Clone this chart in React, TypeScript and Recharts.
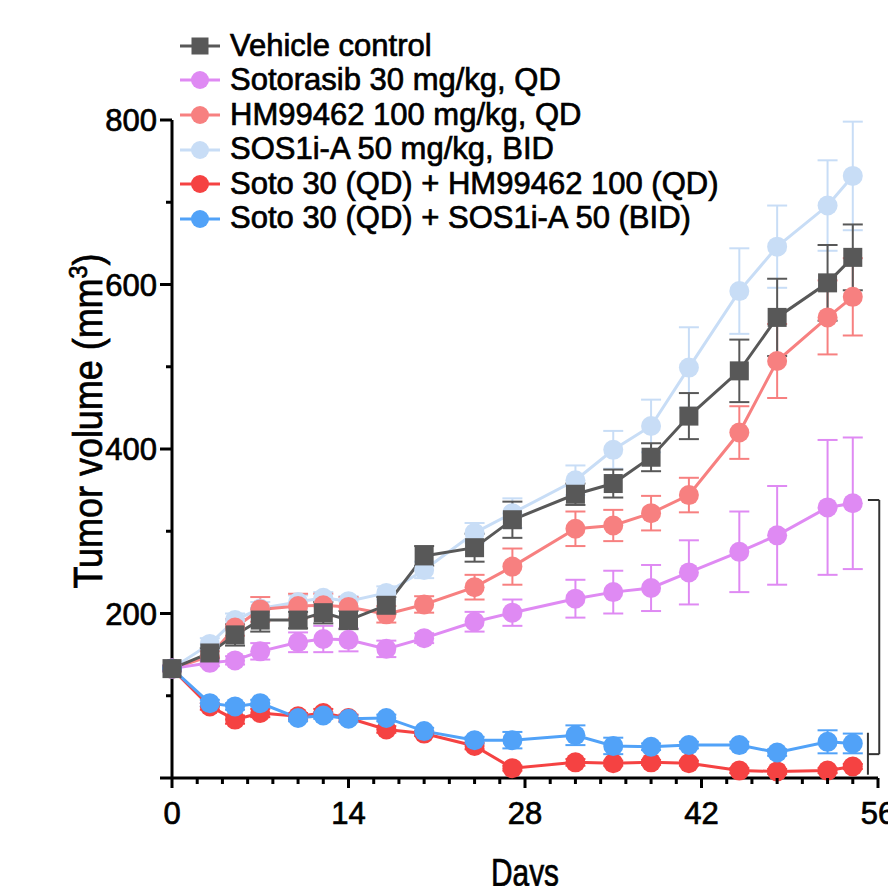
import { LineChart, Line, XAxis, YAxis, ErrorBar, Legend, ReferenceLine } from 'recharts';

// sampling days
const days = [0, 3, 5, 7, 10, 12, 14, 17, 20, 24, 27, 32, 35, 38, 41, 45, 48, 52, 54];

// mean tumor volume (mm3) and SEM per group
const vehicle = [133, 152, 174, 192, 192, 201, 192, 210, 270, 280, 314, 345, 358, 390, 440, 495, 560, 602, 633];
const vehicleErr = [3, 6, 13, 14, 10, 13, 11, 10, 12, 17, 22, 13, 17, 17, 28, 38, 47, 46, 40];

const sotorasib = [133, 140, 143, 154, 165, 169, 168, 157, 170, 190, 201, 218, 226, 231, 250, 275, 295, 329, 334];
const sotorasibErr = [3, 4, 5, 10, 12, 16, 14, 10, 6, 12, 16, 23, 26, 28, 39, 49, 60, 82, 80];

const hm = [133, 148, 183, 205, 209, 210, 208, 199, 211, 232, 257, 303, 307, 322, 344, 420, 507, 560, 585];
const hmErr = [3, 6, 10, 15, 15, 14, 12, 10, 10, 15, 22, 21, 19, 21, 21, 32, 45, 45, 47];

const sos = [133, 163, 192, 206, 214, 219, 215, 225, 253, 298, 322, 362, 399, 428, 499, 592, 646, 696, 732];
const sosErr = [3, 7, 8, 8, 8, 7, 6, 8, 10, 12, 18, 18, 23, 32, 49, 52, 50, 55, 66];

const sotoHm = [133, 87, 71, 79, 75, 79, 73, 59, 54, 39, 12, 19, 18, 19, 18, 9, 8, 9, 14];
const sotoHmErr = [3, 4, 5, 5, 4, 5, 4, 4, 3, 4, 3, 4, 3, 3, 3, 3, 3, 3, 3];

const sotoSos = [133, 91, 87, 91, 73, 76, 72, 73, 57, 46, 46, 52, 39, 38, 40, 40, 31, 44, 42];
const sotoSosErr = [3, 4, 4, 4, 4, 4, 4, 4, 4, 4, 10, 12, 10, 4, 4, 4, 4, 14, 12];

const seriesNames = [
  'Vehicle control',
  'Sotorasib 30 mg/kg, QD',
  'HM99462 100 mg/kg, QD',
  'SOS1i-A 50 mg/kg, BID',
  'Soto 30 (QD) + HM99462 100 (QD)',
  'Soto 30 (QD) + SOS1i-A 50 (BID)'
];

const xTicks = [0, 2, 4, 6, 8, 10, 12, 14, 16, 18, 20, 22, 24, 26, 28, 30, 32, 34, 36, 38, 40, 42, 44, 46, 48, 50, 52, 54, 56];
const yTicks = [0, 100, 200, 300, 400, 500, 600, 700, 800];

// significance brackets (data coords)
const bigBracket = { x1: 55.2, x2: 56.1, yTop: 338, yBottom: 29 };
const smallBracket = { x: 55.2, yTop: 55, yBottom: 4 };

const data = days.map((d, i) => ({
  day: d,
  vehicle: vehicle[i],
  vehicleErr: vehicleErr[i],
  sotorasib: sotorasib[i],
  sotorasibErr: sotorasibErr[i],
  hm: hm[i],
  hmErr: hmErr[i],
  sos: sos[i],
  sosErr: sosErr[i],
  sotoHm: sotoHm[i],
  sotoHmErr: sotoHmErr[i],
  sotoSos: sotoSos[i],
  sotoSosErr: sotoSosErr[i]
}));

const FONT = '"Liberation Sans", Arial, sans-serif';
const TEXT_STROKE = 0.7;

const series = [
  { key: 'vehicle', name: seriesNames[0], color: '#585858', shape: 'square' },
  { key: 'sotorasib', name: seriesNames[1], color: '#df8af3', shape: 'circle' },
  { key: 'hm', name: seriesNames[2], color: '#f78080', shape: 'circle' },
  { key: 'sos', name: seriesNames[3], color: '#c8ddf6', shape: 'circle' },
  { key: 'sotoHm', name: seriesNames[4], color: '#f54242', shape: 'circle' },
  { key: 'sotoSos', name: seriesNames[5], color: '#51a2f8', shape: 'circle' }
];

// draw order: light blue first, vehicle on top
const drawOrder = ['sos', 'hm', 'sotorasib', 'sotoHm', 'sotoSos', 'vehicle'];

const XTick = (props: any) => {
  const { x, y, payload } = props;
  const major = payload.value % 14 === 0;
  return (
    <g>
      <line x1={x} y1={y} x2={x} y2={y + (major ? 10 : 6)} stroke="#000" strokeWidth={3} />
      {major && (
        <text x={x} y={y + 46} textAnchor="middle" fontSize={31} fontFamily={FONT} fill="#000" stroke="#000" strokeWidth={TEXT_STROKE}>
          {payload.value}
        </text>
      )}
    </g>
  );
};

const YTick = (props: any) => {
  const { x, y, payload } = props;
  const major = payload.value % 200 === 0;
  return (
    <g>
      <line x1={x - (major ? 12 : 6)} y1={y} x2={x} y2={y} stroke="#000" strokeWidth={3} />
      {major && payload.value !== 0 && (
        <text x={x - 15} y={y + 11} textAnchor="end" fontSize={31} fontFamily={FONT} fill="#000" stroke="#000" strokeWidth={TEXT_STROKE}>
          {payload.value}
        </text>
      )}
    </g>
  );
};

const Marker = ({ shape, color, cx, cy, size }: any) =>
  shape === 'square' ? (
    <rect x={cx - size} y={cy - size} width={size * 2} height={size * 2} fill={color} />
  ) : (
    <circle cx={cx} cy={cy} r={size} fill={color} />
  );

const renderLegend = () => (
  <div style={{ fontFamily: FONT, fontSize: 31, lineHeight: '34.6px', color: '#000', WebkitTextStroke: `${TEXT_STROKE}px #000` }}>
    {series.map((s) => (
      <div key={s.key} style={{ display: 'flex', alignItems: 'center', height: 34.6, whiteSpace: 'nowrap' }}>
        <svg width={50} height={34} style={{ flex: 'none' }}>
          <line x1={0} y1={17} x2={40} y2={17} stroke={s.color} strokeWidth={3} />
          <Marker shape={s.shape} color={s.color} cx={20} cy={17} size={s.shape === 'square' ? 8.5 : 9} />
        </svg>
        <span>{s.name}</span>
      </div>
    ))}
  </div>
);

export default function App() {
  return (
    <div style={{ width: 888, height: 886, position: 'relative', background: '#fff' }}>
      <style>{'body{margin:0;overflow:hidden;background:#fff}'}</style>
      <LineChart width={888} height={886} data={data} margin={{ top: 120, right: 10, left: 0, bottom: 0 }}>
        <XAxis
          dataKey="day"
          type="number"
          domain={[0, 56]}
          ticks={xTicks}
          interval={0}
          height={108}
          tickSize={0}
          tickMargin={0}
          tickLine={false}
          axisLine={{ stroke: '#000', strokeWidth: 3 }}
          tick={<XTick />}
          label={{
            content: () => (
              <text x={525} y={886} textAnchor="middle" fontSize={38} fontFamily={FONT} fill="#000" stroke="#000" strokeWidth={TEXT_STROKE} textLength={68} lengthAdjust="spacingAndGlyphs">
                Days
              </text>
            )
          }}
        />
        <YAxis
          type="number"
          domain={[0, 800]}
          ticks={yTicks}
          interval={0}
          width={172}
          tickSize={0}
          tickMargin={0}
          tickLine={false}
          axisLine={{ stroke: '#000', strokeWidth: 3 }}
          tick={<YTick />}
          label={{
            content: () => (
              <text
                transform="translate(102, 421) rotate(-90)"
                textAnchor="middle"
                fontSize={40}
                fontFamily={FONT}
                fill="#000"
                stroke="#000"
                strokeWidth={TEXT_STROKE}
                textLength={335}
                lengthAdjust="spacingAndGlyphs"
              >
                Tumor volume (mm<tspan dy={-15} fontSize={26}>3</tspan><tspan dy={15}>)</tspan>
              </text>
            )
          }}
        />
        {drawOrder.map((k) => {
          const s = series.find((e) => e.key === k)!;
          return (
            <Line
              key={s.key}
              type="linear"
              dataKey={s.key}
              name={s.name}
              stroke={s.color}
              strokeWidth={3}
              isAnimationActive={false}
              activeDot={false}
              dot={(p: any) => (
                <Marker
                  key={`${s.key}-${p.index}`}
                  shape={s.shape}
                  color={s.color}
                  cx={p.cx}
                  cy={p.cy}
                  size={s.shape === 'square' ? 9.5 : 10}
                />
              )}
            >
              <ErrorBar dataKey={`${s.key}Err`} width={10} stroke={s.color} strokeWidth={2} direction="y" />
            </Line>
          );
        })}
        <ReferenceLine
          segment={[{ x: bigBracket.x1, y: bigBracket.yTop }, { x: bigBracket.x2, y: bigBracket.yTop }]}
          stroke="#333"
          strokeWidth={2}
          ifOverflow="visible"
        />
        <ReferenceLine
          segment={[{ x: bigBracket.x2, y: bigBracket.yTop }, { x: bigBracket.x2, y: bigBracket.yBottom }]}
          stroke="#333"
          strokeWidth={2}
          ifOverflow="visible"
        />
        <ReferenceLine
          segment={[{ x: smallBracket.x, y: bigBracket.yBottom }, { x: bigBracket.x2, y: bigBracket.yBottom }]}
          stroke="#333"
          strokeWidth={2}
          ifOverflow="visible"
        />
        <ReferenceLine
          segment={[{ x: smallBracket.x, y: smallBracket.yTop }, { x: smallBracket.x, y: smallBracket.yBottom }]}
          stroke="#333"
          strokeWidth={2}
          ifOverflow="visible"
        />
        <Legend
          layout="vertical"
          align="center"
          verticalAlign="middle"
          content={renderLegend}
          wrapperStyle={{ top: 28.5, left: 180, width: 'auto' }}
        />
      </LineChart>
    </div>
  );
}
